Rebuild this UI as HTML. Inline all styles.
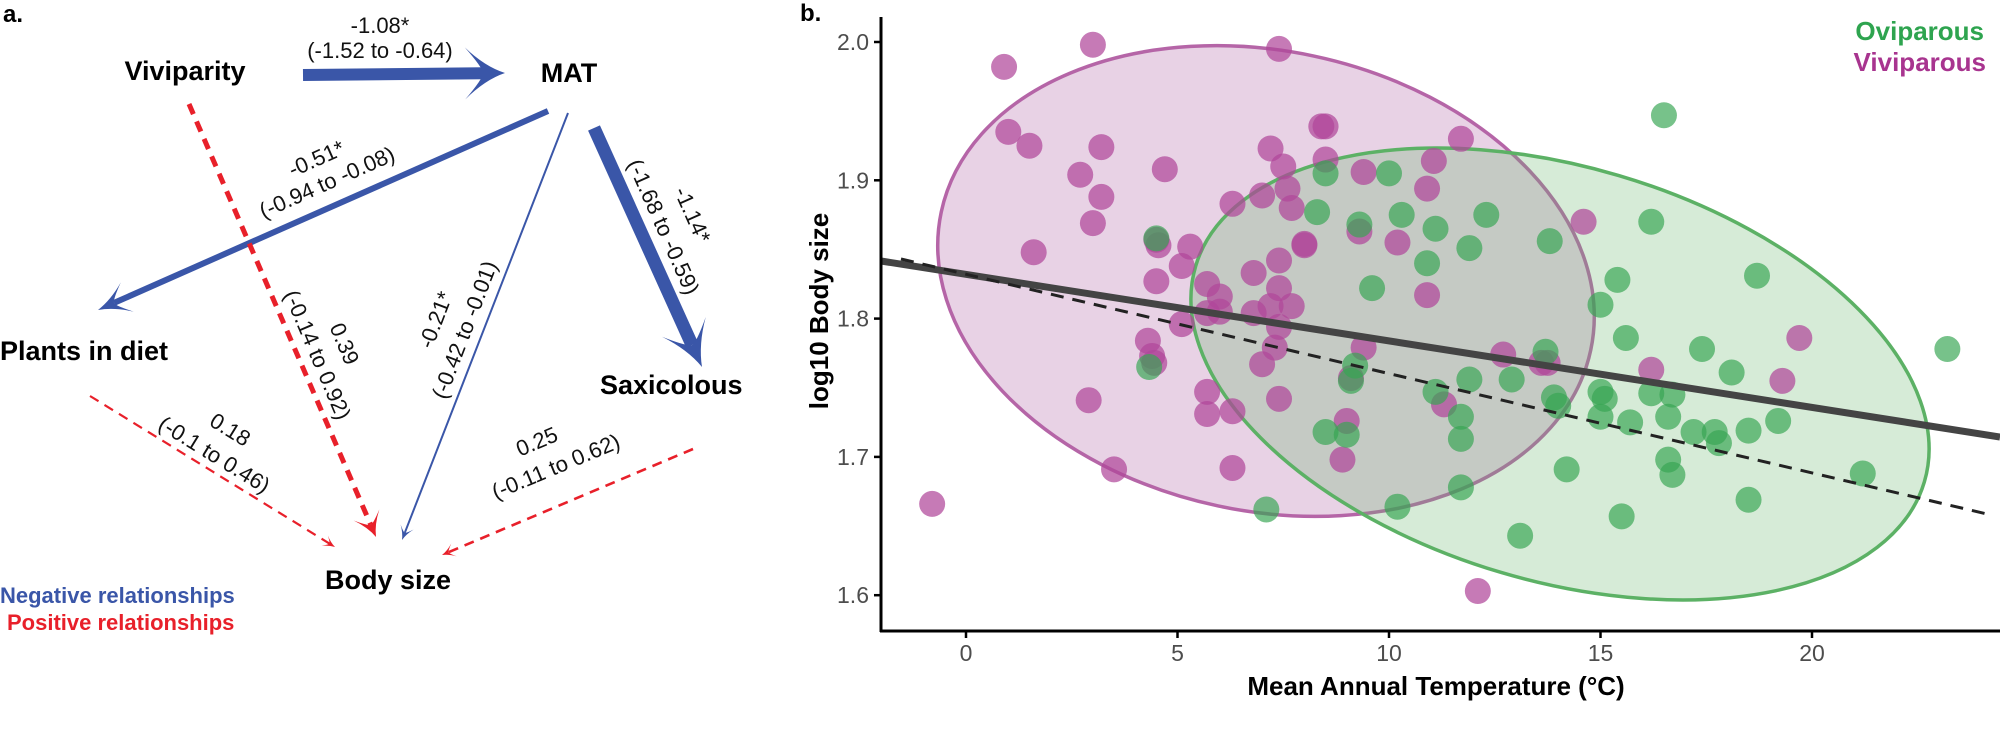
<!DOCTYPE html>
<html><head><meta charset="utf-8"><style>
html,body{margin:0;padding:0;background:#fff;}
svg{display:block;font-family:"Liberation Sans",Arial,sans-serif;}
</style></head><body>
<svg id="s" width="2000" height="731" viewBox="0 0 2000 731" xmlns="http://www.w3.org/2000/svg">
<rect width="2000" height="731" fill="#fff"/>
<!-- Panel a -->
<text x="3" y="22" font-size="24" font-weight="bold">a.</text>
<g font-weight="bold" font-size="27" fill="#000">
<text x="185" y="80" text-anchor="middle">Viviparity</text>
<text x="569" y="82" text-anchor="middle">MAT</text>
<text x="0" y="360">Plants in diet</text>
<text x="600" y="394">Saxicolous</text>
<text x="388" y="589" text-anchor="middle">Body size</text>
</g>
<g font-weight="bold" font-size="22">
<text x="0" y="603" fill="#3a56a8">Negative relationships</text>
<text x="7" y="630" fill="#e8202a">Positive relationships</text>
</g>
<g id="arrows"></g>
<g font-size="22" fill="#111" text-anchor="middle">
<text x="380" y="33">-1.08*</text>
<text x="380" y="58">(-1.52 to -0.64)</text>
<g transform="translate(317,160) rotate(-24)"><text x="0" y="6">-0.51*</text><text x="0" y="32">(-0.94 to -0.08)</text></g>
<g transform="translate(692,215) rotate(66)"><text x="0" y="7">-1.14*</text></g>
<g transform="translate(663,227) rotate(66)"><text x="0" y="7">(-1.68 to -0.59)</text></g>
<g transform="translate(344,344) rotate(67)"><text x="0" y="7">0.39</text></g>
<g transform="translate(317,355) rotate(67)"><text x="0" y="7">(-0.14 to 0.92)</text></g>
<g transform="translate(436,320) rotate(-69)"><text x="0" y="7">-0.21*</text></g>
<g transform="translate(465,330) rotate(-69)"><text x="0" y="7">(-0.42 to -0.01)</text></g>
<g transform="translate(230,430) rotate(31.6)"><text x="0" y="7">0.18</text></g>
<g transform="translate(214,455) rotate(31.6)"><text x="0" y="7">(-0.1 to 0.46)</text></g>
<g transform="translate(537,442) rotate(-22.7)"><text x="0" y="7">0.25</text></g>
<g transform="translate(556,467) rotate(-22.7)"><text x="0" y="7">(-0.11 to 0.62)</text></g>
</g>
<!-- Panel b -->
<text x="800" y="21" font-size="24" font-weight="bold">b.</text>
<ellipse cx="1266" cy="281" rx="332" ry="230" transform="rotate(12 1266 281)" fill="#b26aa8" fill-opacity="0.3" stroke="#b565a7" stroke-width="3.5"/>
<ellipse cx="1560" cy="374" rx="380" ry="207" transform="rotate(16.5 1560 374)" fill="#6bb66f" fill-opacity="0.28" stroke="#5cb165" stroke-width="3.5"/>
<g id="pts"></g>
<line x1="881" y1="261" x2="2000" y2="437" stroke="#444" stroke-width="7"/>
<line x1="901" y1="259" x2="1987" y2="514" stroke="#222" stroke-width="3" stroke-dasharray="13,9"/>
<line x1="881" y1="17" x2="881" y2="632" stroke="#000" stroke-width="3"/>
<line x1="880" y1="631" x2="2000" y2="631" stroke="#000" stroke-width="3"/>
<g font-size="23" fill="#4d4d4d" text-anchor="end" id="yt"></g>
<g font-size="23" fill="#4d4d4d" text-anchor="middle" id="xt"></g>
<text x="1436" y="695" font-size="26" font-weight="bold" text-anchor="middle">Mean Annual Temperature (°C)</text>
<text transform="translate(828,311) rotate(-90)" font-size="26" font-weight="bold" text-anchor="middle">log10  Body size</text>
<text x="1984" y="40" font-size="26" font-weight="bold" fill="#2ea44f" text-anchor="end">Oviparous</text>
<text x="1986" y="71" font-size="26" font-weight="bold" fill="#a8348f" text-anchor="end">Viviparous</text>
</svg>
<script>
var NS="http://www.w3.org/2000/svg";
function el(p,t,a){var e=document.createElementNS(NS,t);for(var k in a)e.setAttribute(k,a[k]);p.appendChild(e);return e;}
var A=document.getElementById("arrows");
function arrow(x1,y1,x2,y2,col,w,L,W,dash){
 var dx=x2-x1,dy=y2-y1,d=Math.hypot(dx,dy),ux=dx/d,uy=dy/d,px=-uy,py=ux;
 var ex=x2-ux*L*0.55,ey=y2-uy*L*0.55;
 var a={x1:x1,y1:y1,x2:ex,y2:ey,stroke:col,"stroke-width":w};
 if(dash)a["stroke-dasharray"]=dash;
 el(A,"line",a);
 var bx=x2-ux*L,by=y2-uy*L,nx=x2-ux*L*0.55,ny=y2-uy*L*0.55;
 var w1x=bx+px*W,w1y=by+py*W,w2x=bx-px*W,w2y=by-py*W;
 var c1x=x2-ux*L*0.5+px*W*0.25,c1y=y2-uy*L*0.5+py*W*0.25;
 var c2x=x2-ux*L*0.5-px*W*0.25,c2y=y2-uy*L*0.5-py*W*0.25;
 el(A,"path",{d:"M"+x2+","+y2+" Q"+c1x+","+c1y+" "+w1x+","+w1y+" Q"+(nx+px*W*0.2)+","+(ny+py*W*0.2)+" "+nx+","+ny+" Q"+(nx-px*W*0.2)+","+(ny-py*W*0.2)+" "+w2x+","+w2y+" Q"+c2x+","+c2y+" "+x2+","+y2+"Z",fill:col});
}
var B="#3a56a8",R="#e8202a";
arrow(303,75,505,73,B,12,40,26);
arrow(548,111,98,310,B,6,32,16);
arrow(594,128,702,367,B,13,44,24);
arrow(568,113,402,540,B,2,14,7);
arrow(189,104,376,537,R,5,24,14,"11,8");
arrow(90,396,335,547,R,2.2,12,6,"10,7");
arrow(693,449,442,555,R,2.6,13,7,"10,7");
var P=document.getElementById("pts");
function X(v){return 966+42.3*v;} function Y(v){return 42+1383*(2-v);}
var pur=[[-0.8,1.666],[0.9,1.982],[3.0,1.998],[7.4,1.995],[1.0,1.935],[1.5,1.925],[3.2,1.924],[2.7,1.904],[3.2,1.888],[3.0,1.869],[1.6,1.848],[4.7,1.908],[4.5,1.857],[4.55,1.853],[5.3,1.852],[5.1,1.838],[4.5,1.827],[4.3,1.784],[4.4,1.773],[4.45,1.768],[5.1,1.796],[2.9,1.741],[3.5,1.691],[5.7,1.747],[5.7,1.731],[6.3,1.733],[6.3,1.692],[6.3,1.883],[7.2,1.923],[7.5,1.910],[7.0,1.889],[7.6,1.894],[7.7,1.880],[8.0,1.854],[8.4,1.939],[7.4,1.842],[6.8,1.833],[5.7,1.825],[6.0,1.816],[5.7,1.804],[6.0,1.805],[6.8,1.804],[7.4,1.822],[7.2,1.809],[7.7,1.809],[7.4,1.794],[7.3,1.779],[7.0,1.767],[7.4,1.742],[14.6,1.870],[19.7,1.786],[19.3,1.755],[16.2,1.763],[12.7,1.774],[13.6,1.768],[13.75,1.768],[12.1,1.603],[11.06,1.914],[11.7,1.930],[8.5,1.939],[10.9,1.894],[10.2,1.855],[10.9,1.817],[9.3,1.863],[9.4,1.906],[9.4,1.779],[9.0,1.726],[8.9,1.698],[11.3,1.738],[8.0,1.853],[8.5,1.915],[9.1,1.757]];
var grn=[[16.5,1.947],[16.2,1.870],[18.7,1.831],[15.4,1.828],[15.0,1.810],[15.6,1.786],[17.4,1.778],[18.1,1.761],[23.2,1.778],[13.8,1.856],[12.3,1.875],[11.1,1.865],[10.3,1.875],[10.0,1.905],[8.5,1.905],[9.3,1.868],[8.3,1.877],[11.9,1.851],[10.9,1.840],[9.6,1.822],[13.7,1.776],[9.2,1.766],[9.1,1.755],[11.1,1.747],[11.9,1.756],[12.9,1.756],[13.9,1.743],[14.0,1.737],[15.0,1.747],[15.1,1.742],[15.0,1.729],[15.7,1.725],[16.2,1.746],[16.7,1.745],[16.6,1.729],[17.2,1.718],[17.7,1.718],[17.8,1.710],[18.5,1.719],[19.2,1.726],[16.6,1.698],[16.7,1.687],[21.2,1.688],[18.5,1.669],[15.5,1.657],[14.2,1.691],[13.1,1.643],[11.7,1.678],[10.2,1.664],[11.7,1.713],[11.7,1.729],[8.5,1.718],[9.0,1.716],[4.33,1.765],[7.1,1.662],[4.5,1.858]];
pur.forEach(function(p){el(P,"circle",{cx:X(p[0]),cy:Y(p[1]),r:13,fill:"#b0479a","fill-opacity":0.72});});
grn.forEach(function(p){el(P,"circle",{cx:X(p[0]),cy:Y(p[1]),r:13,fill:"#36a552","fill-opacity":0.68});});
var yt=document.getElementById("yt"),xt=document.getElementById("xt"),s=document.getElementById("s");
[2.0,1.9,1.8,1.7,1.6].forEach(function(v){var y=Y(v);el(s,"line",{x1:874,y1:y,x2:881,y2:y,stroke:"#000","stroke-width":2.5});var t=el(yt,"text",{x:869,y:y+8});t.textContent=v.toFixed(1);});
[0,5,10,15,20].forEach(function(v){var x=X(v);el(s,"line",{x1:x,y1:631,x2:x,y2:638,stroke:"#000","stroke-width":2.5});var t=el(xt,"text",{x:x,y:661});t.textContent=v;});
</script>
</body></html>
